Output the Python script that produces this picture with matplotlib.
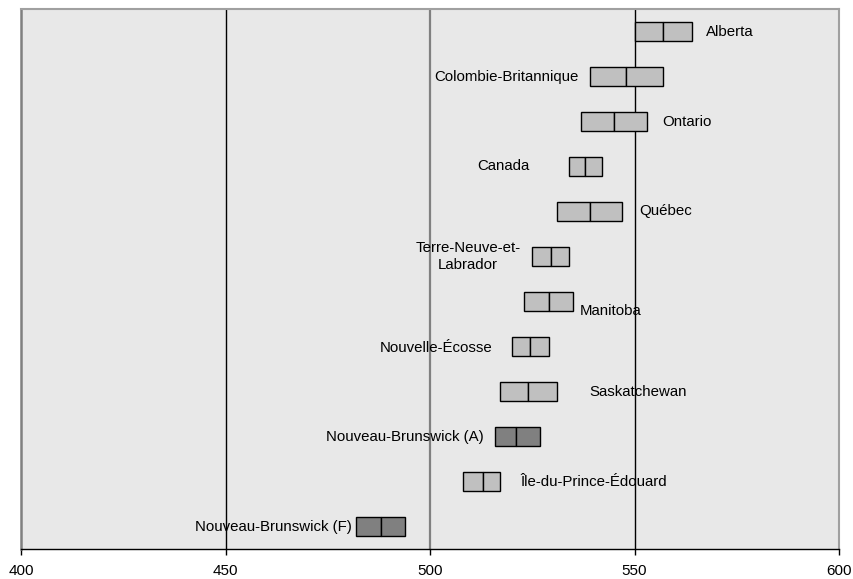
import matplotlib.pyplot as plt

# Provinces, top to bottom
provinces = [
    "Alberta", "Colombie-Britannique", "Ontario", "Canada", "Québec",
    "Terre-Neuve-et-\nLabrador", "Manitoba", "Nouvelle-Écosse", "Saskatchewan",
    "Nouveau-Brunswick (A)", "Île-du-Prince-Édouard", "Nouveau-Brunswick (F)",
]
# confidence interval low / mean / high
low = [550, 539, 537, 534, 531, 525, 523, 520, 517, 516, 508, 482]
mean = [557, 548, 545, 538, 539, 529.5, 529, 524.5, 524, 521, 513, 488]
high = [564, 557, 553, 542, 547, 534, 535, 529, 531, 527, 517, 494]
dark_rows = ["Nouveau-Brunswick (A)", "Nouveau-Brunswick (F)"]

# label placement (x in data units, alignment, vertical nudge in rows)
label_x = [567.5, 536.4, 556.7, 524.4, 551.2, 509.3, 536.7, 515.4, 538.9, 513.2, 522.0, 480.9]
label_ha = ["left", "right", "left", "right", "left", "center",
            "left", "right", "left", "right", "left", "right"]
label_dy = [0, 0, 0, 0, 0, 0, 0.22, 0.04, 0, 0, 0, 0]

plt.rcParams['font.family'] = ['Liberation Sans', 'DejaVu Sans']

fig = plt.figure(figsize=(8.54, 5.79), dpi=100)
ax = fig.add_axes([21 / 854, 30 / 579, 818 / 854, 540 / 579])
ax.set_facecolor("#E8E8E8")

rows = list(range(len(provinces)))
colors = ["#808080" if p in dark_rows else "#C0C0C0" for p in provinces]
lw = [m - l for l, m in zip(low, mean)]
rw = [h - m for m, h in zip(mean, high)]

# grid lines
for gx, gc, gw in [(450, "black", 1.0), (500, "#808080", 1.6), (550, "black", 1.0)]:
    ax.axvline(gx, color=gc, lw=gw, zorder=1)

ax.barh(rows, lw, left=low, height=0.41, color=colors, edgecolor="black", linewidth=1, zorder=3)
ax.barh(rows, rw, left=mean, height=0.41, color=colors, edgecolor="black", linewidth=1, zorder=3)

for i, name in enumerate(provinces):
    ax.text(label_x[i], i + label_dy[i], name, ha=label_ha[i], va="center",
            fontsize=10.8, color="black", zorder=4, linespacing=1.2)

ax.set_xlim(400, 600)
ax.set_ylim(len(provinces) - 0.5, -0.5)
ax.set_xticks([400, 450, 500, 550, 600])
ax.set_yticks([])
ax.tick_params(axis="x", direction="out", length=4, width=1, pad=6.5, labelsize=11)

for side in ["top", "right"]:
    ax.spines[side].set_color("#A0A0A0")
    ax.spines[side].set_linewidth(1.5)
ax.spines["left"].set_color("#808080")
ax.spines["left"].set_linewidth(1.8)
ax.spines["bottom"].set_color("black")
ax.spines["bottom"].set_linewidth(1.0)

plt.savefig("out.png", dpi=100)
